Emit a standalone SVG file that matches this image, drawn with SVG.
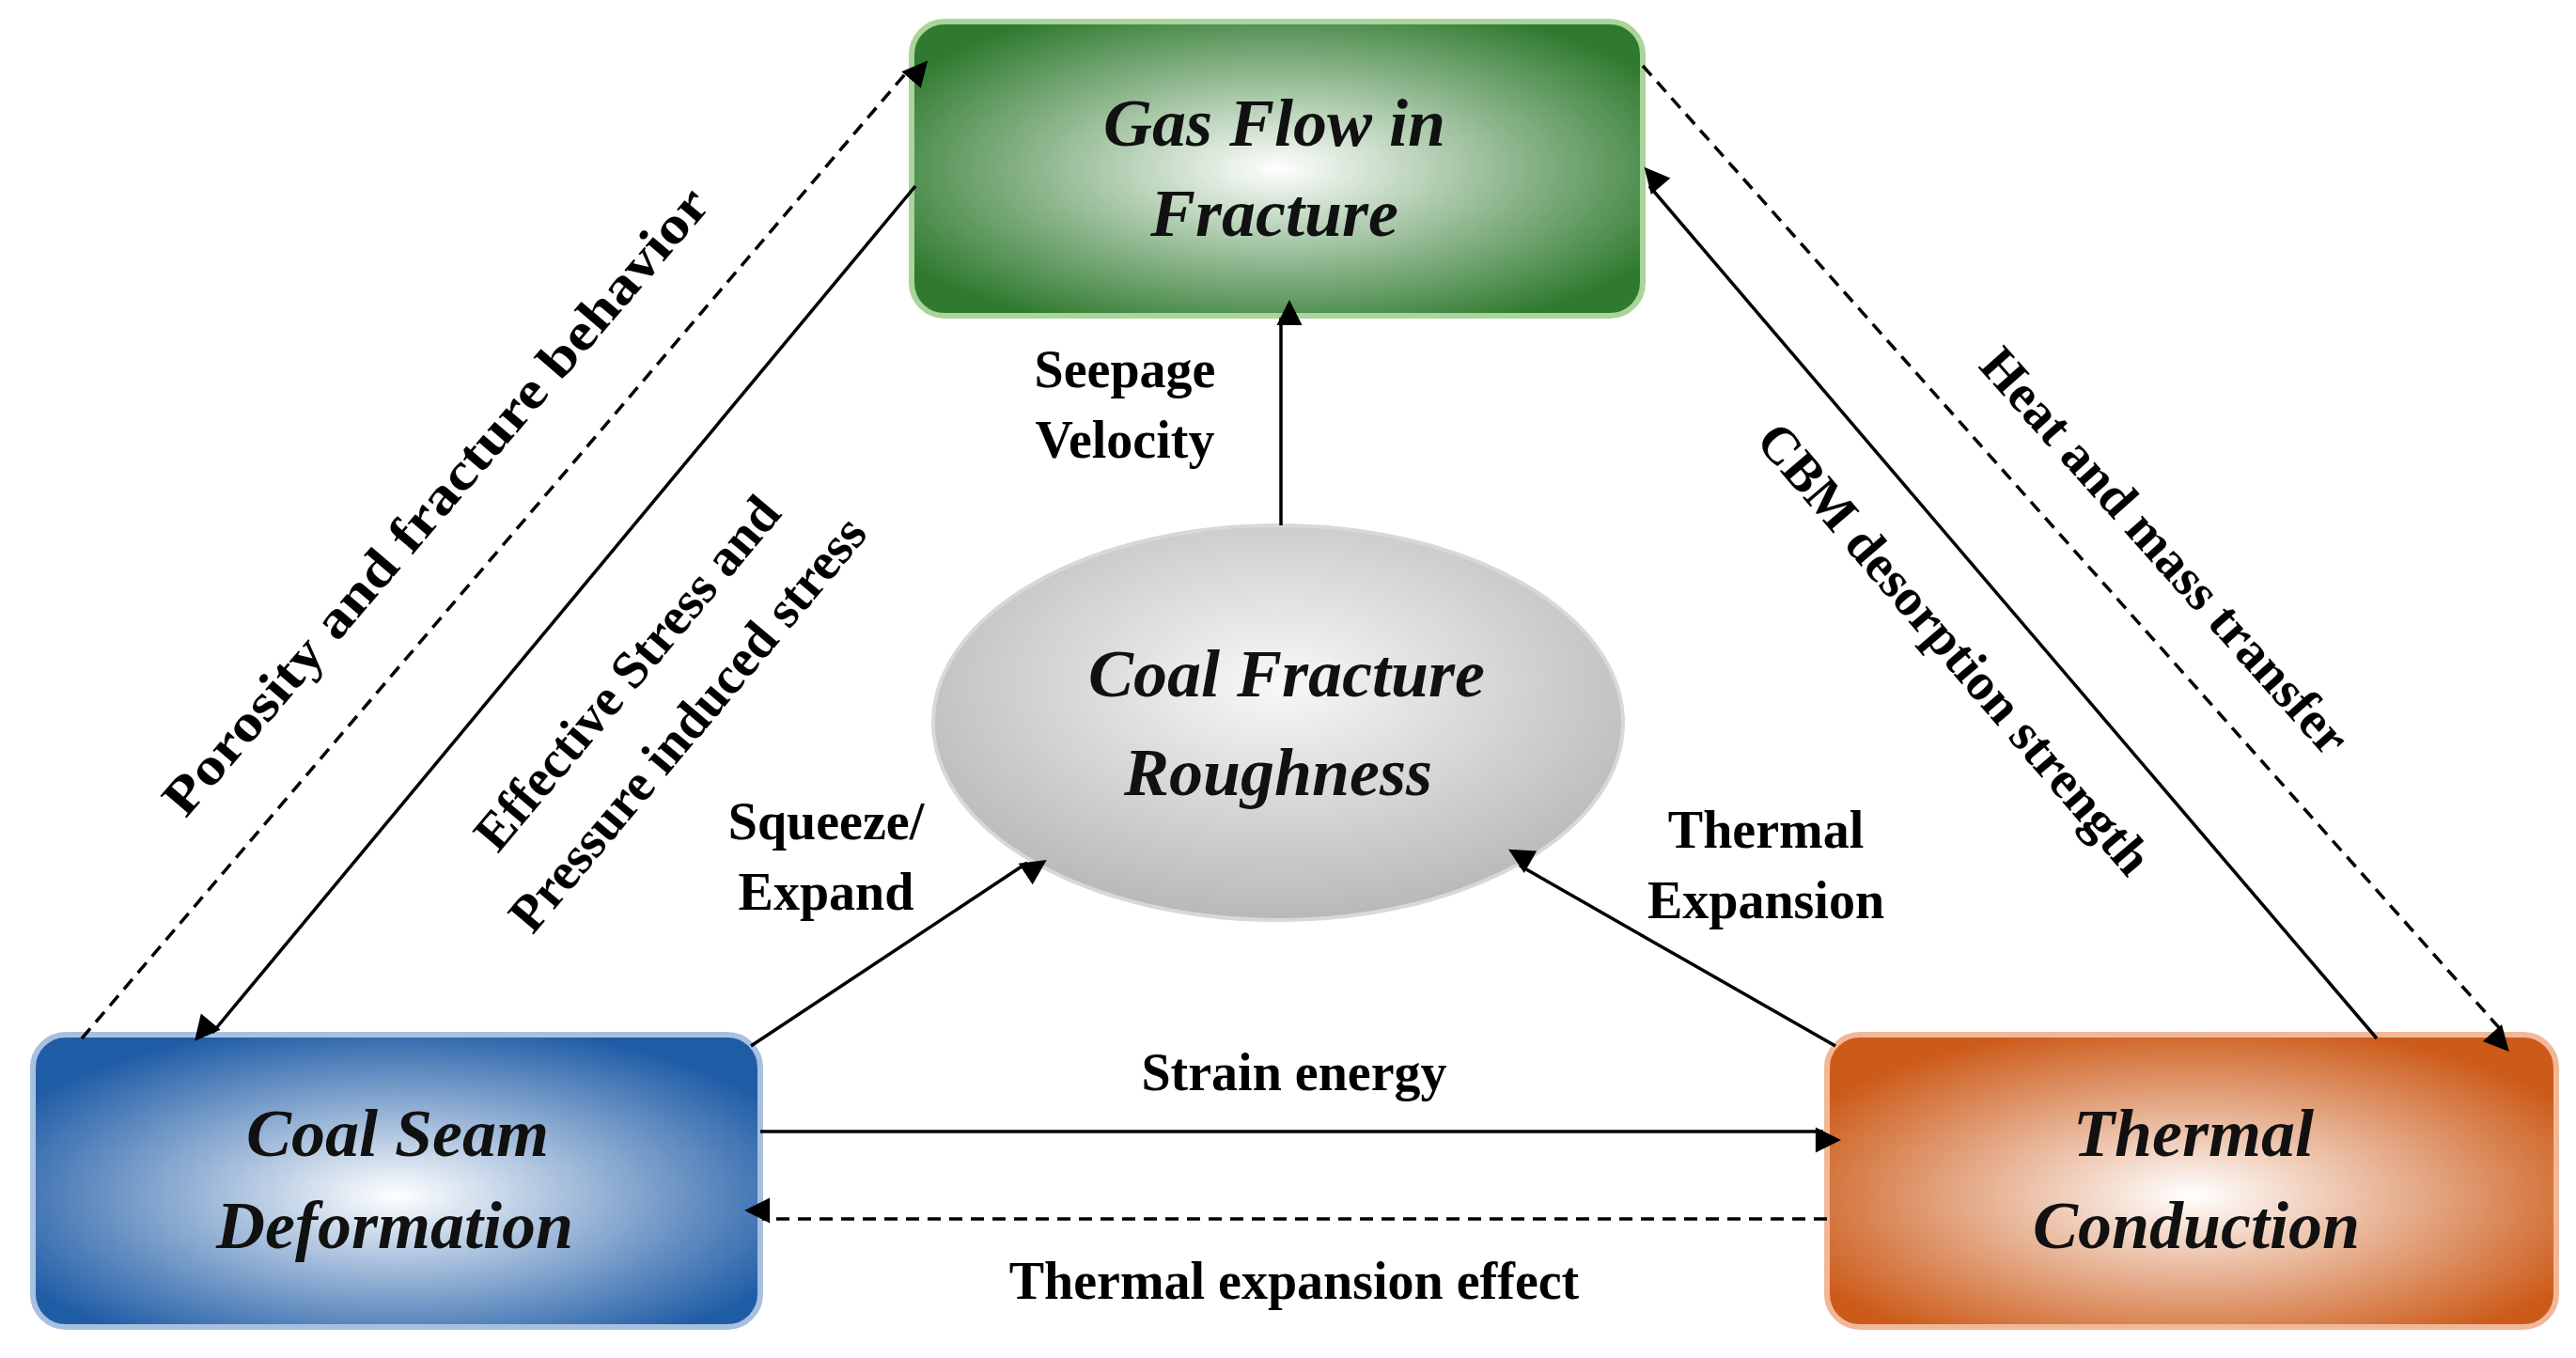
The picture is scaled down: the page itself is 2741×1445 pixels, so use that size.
<svg xmlns="http://www.w3.org/2000/svg" width="2741" height="1445" viewBox="0 0 2741 1445">
<style>
.n{font-family:"Liberation Serif",serif;font-weight:bold;font-style:italic;font-size:72px;text-anchor:middle;dominant-baseline:central;fill:#111}
.l{font-family:"Liberation Serif",serif;font-weight:bold;font-size:56px;text-anchor:middle;dominant-baseline:central;fill:#000}
.c{stroke:#000;stroke-width:3.5;fill:none;marker-end:url(#a)}
.d{stroke-dasharray:14 9}
</style>
<defs>
<marker id="a" viewBox="0 0 10 10" refX="9" refY="5" markerWidth="9" markerHeight="9" markerUnits="userSpaceOnUse" orient="auto" style="overflow:visible"><path d="M0,0L10,5L0,10z" transform="scale(3)" fill="#000"/></marker>
<radialGradient id="gg" cx="50%" cy="50%" r="60%"><stop offset="0" stop-color="#fff"/><stop offset="1" stop-color="#2f7a2f"/></radialGradient>
<radialGradient id="gb" cx="50%" cy="55%" r="60%"><stop offset="0" stop-color="#fff"/><stop offset="1" stop-color="#1f5ca6"/></radialGradient>
<radialGradient id="go" cx="50%" cy="55%" r="60%"><stop offset="0" stop-color="#fff"/><stop offset="1" stop-color="#cc5a18"/></radialGradient>
<radialGradient id="ge" cx="50%" cy="40%" r="60%"><stop offset="0" stop-color="#f8f8f8"/><stop offset="1" stop-color="#b8b8b8"/></radialGradient>
</defs>
<rect width="2741" height="1445" fill="#fff"/>
<g id="gas"><rect x="970" y="23" width="778" height="313" rx="35" fill="url(#gg)" stroke="#a9d49a" stroke-width="6"/><text class="n" x="1356" y="131">Gas Flow in</text><text class="n" x="1356" y="227">Fracture</text></g>
<g id="coal"><rect x="35" y="1101" width="774" height="311" rx="35" fill="url(#gb)" stroke="#a8c0e0" stroke-width="6"/><text class="n" x="423" y="1206">Coal Seam</text><text class="n" x="420" y="1304">Deformation</text></g>
<g id="thermal"><rect x="1944" y="1101" width="776" height="311" rx="35" fill="url(#go)" stroke="#f0b898" stroke-width="6"/><text class="n" x="2334" y="1206">Thermal</text><text class="n" x="2337" y="1304">Conduction</text></g>
<g id="rough"><ellipse cx="1360" cy="769" rx="367" ry="210" fill="url(#ge)" stroke="#d8d8d8" stroke-width="4"/><text class="n" x="1369" y="717">Coal Fracture</text><text class="n" x="1360" y="822">Roughness</text></g>
<g id="connectors">
<line class="c d" x1="87" y1="1105" x2="968" y2="73"/>
<line class="c" x1="974" y1="198" x2="226" y2="1099"/>
<line class="c" x1="1363" y1="559" x2="1363" y2="338"/>
<line class="c" x1="799" y1="1113" x2="1093" y2="918"/>
<line class="c" x1="1953" y1="1113" x2="1617" y2="921"/>
<line class="c" x1="2529" y1="1105" x2="1755" y2="198"/>
<line class="c d" x1="1748" y1="70" x2="2664" y2="1099"/>
<line class="c" x1="809" y1="1204" x2="1940" y2="1204"/>
<line class="c d" x1="1944" y1="1297" x2="811" y2="1297"/>
</g>
<g id="labels">
<text class="l" transform="translate(463,533) rotate(-49.4)" textLength="860" lengthAdjust="spacingAndGlyphs">Porosity and fracture behavior</text>
<text class="l" transform="translate(699,743) rotate(-50)"><tspan x="0" y="-42">Effective Stress and</tspan><tspan x="0" y="42">Pressure induced stress</tspan></text>
<text class="l" transform="translate(2304,586) rotate(48.3)">Heat and mass transfer</text>
<text class="l" transform="translate(2080,690) rotate(49.5)">CBM desorption strength</text>
<text class="l" x="1197" y="393">Seepage</text><text class="l" x="1197" y="468">Velocity</text>
<text class="l" x="879" y="874">Squeeze/</text><text class="l" x="879" y="949">Expand</text>
<text class="l" x="1879" y="883">Thermal</text><text class="l" x="1879" y="958">Expansion</text>
<text class="l" x="1377" y="1141">Strain energy</text>
<text class="l" x="1377" y="1363">Thermal expansion effect</text>
</g>
</svg>
